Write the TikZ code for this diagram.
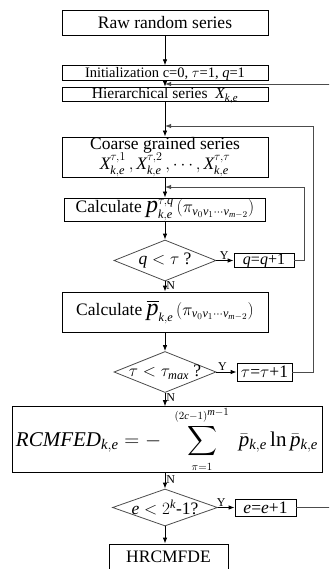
\documentclass[tikz,border=0pt]{standalone}
\usepackage{exscale}
\usepackage{fontspec}
\setmainfont{Liberation Serif}
\usetikzlibrary{arrows.meta,shapes.geometric}

\newcommand{\bigsym}[1]{\mbox{\fontsize{24}{24}\selectfont$#1$}}
\newcommand{\mi}[1]{\mathit{#1}}

\begin{document}
\begin{tikzpicture}[
  x=1pt, y=-1pt,
  >={Latex[length=6pt,width=4.5pt]},
  every node/.style={font=\fontsize{17.5}{20}\selectfont},
  stepbox/.style={draw, line width=0.8pt, inner sep=0pt},
  thinbox/.style={stepbox, font=\fontsize{14.5}{17}\selectfont, text height=11.5pt, text depth=3pt},
  testnode/.style={draw=black!70, diamond, aspect=2.8, inner sep=-3pt, line width=0.8pt},
  flow/.style={->, line width=0.8pt},
  loopline/.style={->, draw=black!70, line width=0.9pt},
  yn/.style={font=\fontsize{12}{12}\selectfont, inner sep=1pt}
]
  \useasboundingbox (0,0) rectangle (329,569);
  \clip (0,0) rectangle (329,569);

  % Main column
  \node[stepbox, minimum width=206pt, minimum height=25pt] (raw) at (165,22.5) {Raw random series};
  \node[thinbox, minimum width=206pt] (init) at (165,73)
    {Initialization c=0, $\tau$=1, $\mi{q}$=1};
  \node[thinbox, minimum width=206pt, font=\fontsize{15.5}{18}\selectfont] (hier) at (165,94.5)
    {Hierarchical series \hspace{4pt}$\mi{X}_{\mi{k},\mi{e}}$};
  \node[stepbox, minimum width=206pt, minimum height=40pt, align=center] (coarse) at (165,157)
    {Coarse grained series\\[0pt]$\mi{X}^{\tau,1}_{\mi{k},\mi{e}}\,,\mi{X}^{\tau,2}_{\mi{k},\mi{e}}\,,\cdots,\mi{X}^{\tau,\tau}_{\mi{k},\mi{e}}$};
  \node[stepbox, minimum width=201pt, minimum height=23pt] (calcp) at (165,209.5)
    {Calculate $\bigsym{\mi{p}}^{\tau,\mi{q}}_{\mi{k},\mi{e}}\,(\pi_{\mi{v}_0\mi{v}_1\cdots \mi{v}_{\mi{m}-2}})$};
  \node[testnode, minimum width=102pt, minimum height=41pt] (dq) at (165,260.5) {$\mi{q}<\tau$ ?};
  \node[stepbox, minimum width=206pt, minimum height=40pt] (calcpbar) at (165,312)
    {Calculate $\overline{\bigsym{\mi{p}}}_{\mi{k},\mi{e}}\,(\pi_{\mi{v}_0\mi{v}_1\cdots \mi{v}_{\mi{m}-2}})$};
  \node[testnode, minimum width=102pt, minimum height=41pt] (dt) at (165,372) {$\tau<\tau_{\mi{max}}$ ?};
  \node[stepbox, minimum width=310pt, minimum height=63pt, font=\fontsize{21}{25}\selectfont] (rcm) at (167,439.5)
    {$\displaystyle \mi{RCMFED}_{\mi{k},\mi{e}}=-\hspace{10pt}\sum_{\scriptscriptstyle\pi=1}^{\scriptscriptstyle(2\mi{c}-1)^{\mi{m}-1}}\hspace{6pt}\bar{\mi{p}}_{\mi{k},\mi{e}}\ln\bar{\mi{p}}_{\mi{k},\mi{e}}$};
  \node[testnode, inner sep=-8pt, minimum width=105pt, minimum height=37pt] (de) at (165,507.5)
    {$\mi{e}<2^{\mi{k}}$-1?};
  \node[stepbox, minimum width=119pt, minimum height=26pt] (hr) at (168.5,557) {HRCMFDE};

  % Side boxes
  \node[thinbox, minimum width=60pt, font=\fontsize{16}{18}\selectfont] (qinc) at (264,260.5) {$\mi{q}$=$\mi{q}$+1};
  \node[stepbox, minimum width=55pt, minimum height=18pt] (tinc) at (264.5,372) {$\tau$=$\tau$+1};
  \node[stepbox, minimum width=61pt, minimum height=17pt] (einc) at (265.5,507.5) {$\mi{e}$=$\mi{e}$+1};

  % Joins on the main line
  \coordinate (je) at (165,84);
  \coordinate (jt) at (165,126);
  \coordinate (jq) at (165,187);

  % Downward flow
  \draw[flow] (raw) -- (init);
  \draw[flow] (init) -- (hier);
  \draw[flow] (hier) -- (coarse);
  \draw[flow] (coarse) -- (calcp);
  \draw[flow] (calcp) -- (dq);
  \draw[flow] (dq.south) -- node[yn, right, pos=.45] (nq) {N} (calcpbar);
  \draw[flow] (calcpbar) -- (dt);
  \draw[flow] (dt.south) -- node[yn, right, pos=.35] (nt) {N} (dt.south |- rcm.north);
  \draw[flow] (rcm.south -| de) -- node[yn, right, pos=.4] (nr) {N} (de.north);
  \draw[flow] (de.south) -- (de.south |- hr.north);

  % Yes branches
  \draw[flow] (dq.east) -- node[yn, above, pos=.45] (yq) {Y} (qinc);
  \draw[flow] (dt.east) -- node[yn, above, pos=.3] (yt) {Y} (tinc);
  \draw[flow] (de.east) -- node[yn, above, pos=.2] (ye) {Y} (einc);

  % Loops back
  \draw[loopline] (qinc.east) -- ++(10,0) |- (jq);
  \draw[loopline] (tinc.east) -- ++(21,0) |- (jt);
  \draw[loopline] (einc.east) -- ++(40,0) |- (je);
\end{tikzpicture}
\end{document}
